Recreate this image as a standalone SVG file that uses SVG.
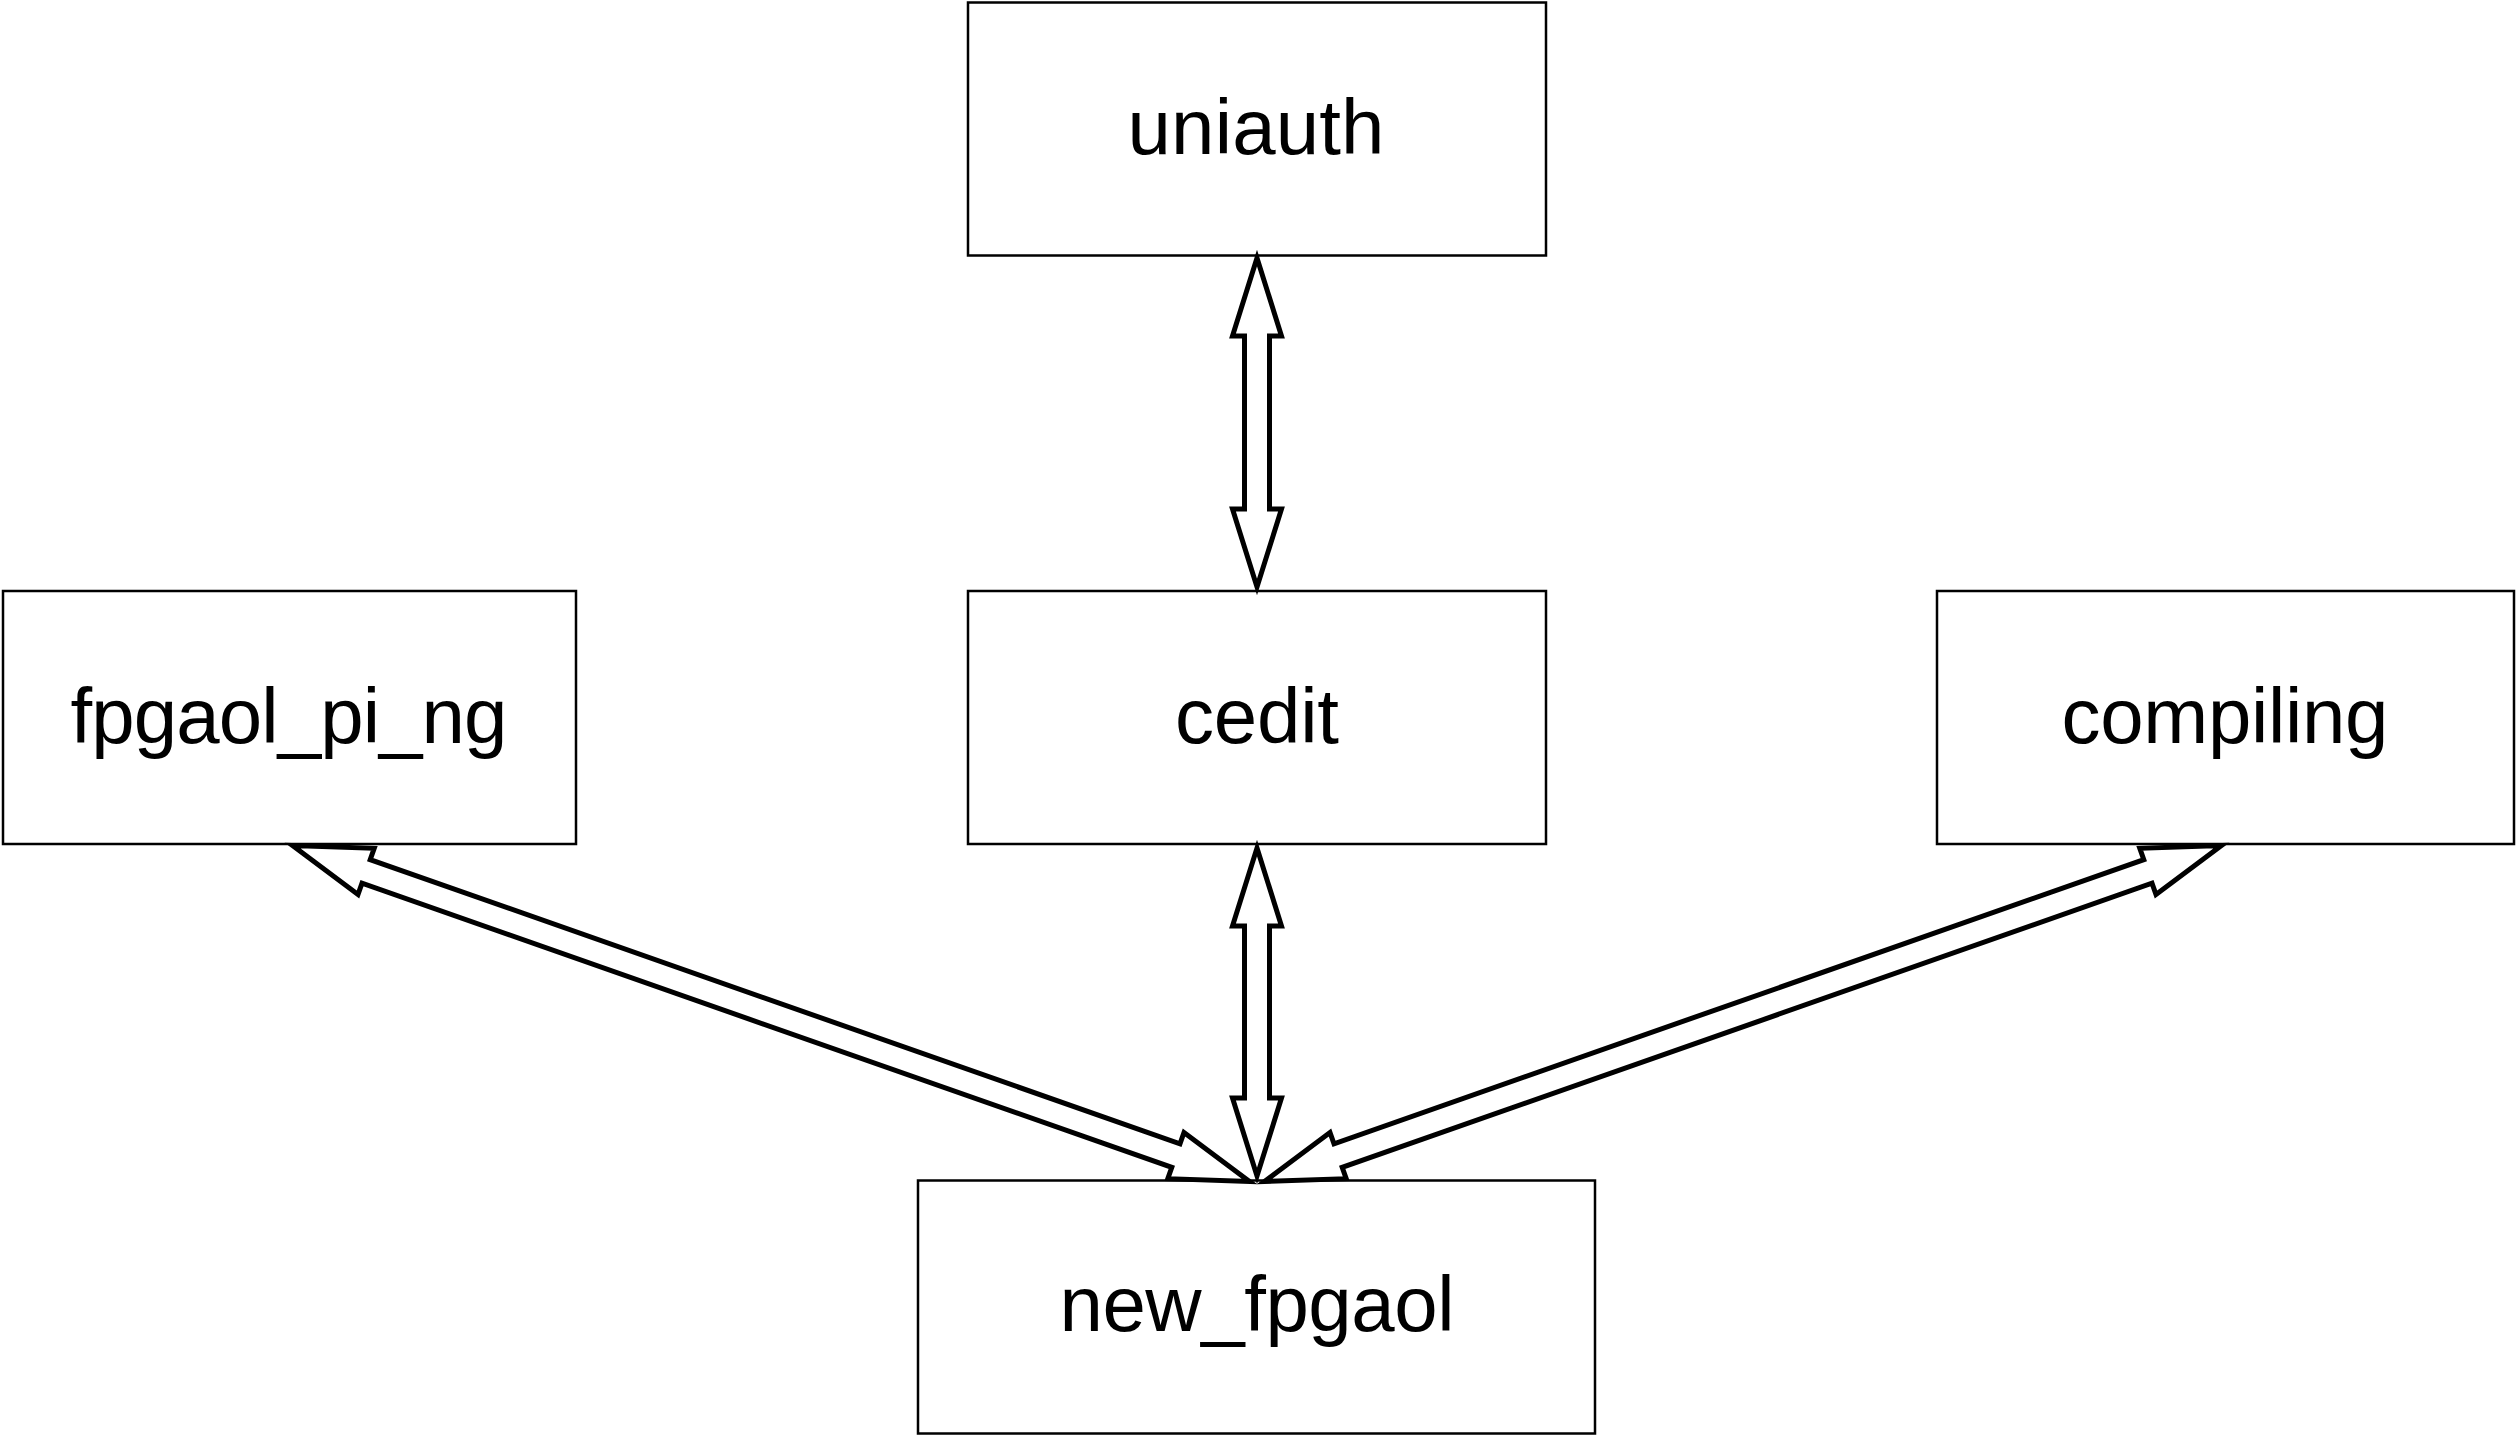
<svg xmlns="http://www.w3.org/2000/svg" width="2517" height="1436" viewBox="0 0 2517 1436">
<style>
.box{fill:#ffffff;stroke:#000000;stroke-width:2.5}
.lbl{font-family:"Liberation Sans",Arial,sans-serif;font-size:78px;fill:#000000;text-anchor:middle}
.arr{fill:#ffffff;stroke:#000000;stroke-width:5;stroke-linejoin:miter;stroke-miterlimit:10}
</style>
<rect width="2517" height="1436" fill="#ffffff"/>
<g id="uniauth"><rect class="box" x="968" y="2.5" width="578" height="253"/><text class="lbl" x="1256" y="154" textLength="257" lengthAdjust="spacing">uniauth</text></g>
<g id="cedit"><rect class="box" x="968" y="591" width="578" height="253"/><text class="lbl" x="1257" y="743" textLength="164" lengthAdjust="spacing">cedit</text></g>
<g id="fpgaol_pi_ng"><rect class="box" x="3" y="591" width="573" height="253"/><text class="lbl" x="289" y="743" textLength="437" lengthAdjust="spacing">fpgaol_pi_ng</text></g>
<g id="compiling"><rect class="box" x="1937" y="591" width="577" height="253"/><text class="lbl" x="2225" y="743" textLength="327" lengthAdjust="spacing">compiling</text></g>
<g id="new_fpgaol"><rect class="box" x="918" y="1180.5" width="677" height="253"/><text class="lbl" x="1257" y="1331" textLength="395" lengthAdjust="spacing">new_fpgaol</text></g>
<g id="connectors">
<polygon class="arr" points="1257,258 1281.5,336 1269.5,336 1269.5,509 1281.5,509 1257,587 1232.5,509 1244.5,509 1244.5,336 1232.5,336"/>
<polygon class="arr" points="1257,848 1281.5,926 1269.5,926 1269.5,1098 1281.5,1098 1257,1176 1232.5,1098 1244.5,1098 1244.5,926 1232.5,926"/>
<polygon class="arr" points="292.5,845.6 358,894.5 362,883.2 1171.8,1167.4 1167.8,1178.7 1249.5,1181.4 1184,1132.5 1180,1143.8 370.2,859.6 374.2,848.3"/>
<polygon class="arr" points="2221.5,845.6 2156,894.5 2152,883.2 1342.2,1167.4 1346.2,1178.7 1264.5,1181.4 1330,1132.5 1334,1143.8 2143.8,859.6 2139.8,848.3"/>
</g>
</svg>
